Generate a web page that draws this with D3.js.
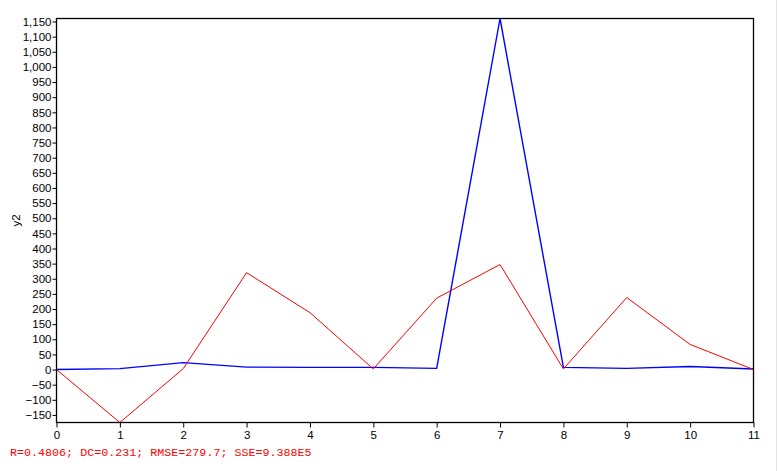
<!DOCTYPE html>
<html>
<head>
<meta charset="utf-8">
<script src="https://cdn.jsdelivr.net/npm/d3@7"></script>
<style>
html,body{margin:0;padding:0;background:#fff;overflow:hidden;}
svg{display:block;}
</style>
</head>
<body>
<svg id="chart" width="778" height="471"></svg>
<script>
const xValues = [0,1,2,3,4,5,6,7,8,9,10,11];
const observed = [0,3,23,8,7,7,4,1160,7,4,10,2];      // blue
const simulated = [0,-175,3,320,188,2,236,347,2,238,83,0]; // red
const yTicks = [-150,-100,-50,0,50,100,150,200,250,300,350,400,450,500,550,600,650,700,750,800,850,900,950,1000,1050,1100,1150];
const yLabel = "y2";
const statsText = "R=0.4806; DC=0.231; RMSE=279.7; SSE=9.388E5";

const svg = d3.select("#chart");
const m = {left:56.5, right:753.5, top:18.5, bottom:422.5};

const x = d3.scaleLinear().domain([0,11]).range([m.left, m.right]);
const allY = observed.concat(simulated);
const y = d3.scaleLinear().domain([d3.min(allY), d3.max(allY)]).range([m.bottom, m.top]);

// window edge line
svg.append("line").attr("x1",776.5).attr("x2",776.5).attr("y1",0).attr("y2",471)
  .attr("stroke","#e2e2e2").attr("stroke-width",1);

const line = d3.line().x((d,i)=>x(xValues[i])).y(d=>y(d));

const plot = svg.append("g");
plot.append("path").datum(observed).attr("d",line)
  .attr("fill","none").attr("stroke","#0000ff").attr("stroke-width",1.4);
plot.append("path").datum(simulated).attr("d",line)
  .attr("fill","none").attr("stroke","#ff0000").attr("stroke-width",1);

// frame
svg.append("rect").attr("x",m.left).attr("y",m.top)
  .attr("width",m.right-m.left).attr("height",m.bottom-m.top)
  .attr("fill","none").attr("stroke","#000").attr("stroke-width",1.3);

const fmt = d3.format(",");
const yAxis = svg.append("g").attr("transform",`translate(${m.left},0)`)
  .call(d3.axisLeft(y).tickValues(yTicks).tickFormat(fmt).tickSize(4).tickPadding(1));
yAxis.select(".domain").remove();
yAxis.selectAll("text").attr("font-family","Liberation Sans, Arial, sans-serif").attr("font-size","11.5px").attr("fill","#000");
yAxis.selectAll("line").attr("stroke","#000");

const xAxis = svg.append("g").attr("transform",`translate(0,${m.bottom})`)
  .call(d3.axisBottom(x).tickValues(xValues).tickFormat(d3.format("d")).tickSize(5).tickPadding(3));
xAxis.select(".domain").remove();
xAxis.selectAll("text").attr("font-family","Liberation Sans, Arial, sans-serif").attr("font-size","11.5px").attr("fill","#000");
xAxis.selectAll("line").attr("stroke","#000");

svg.append("text").attr("transform",`translate(20,${(m.top+m.bottom)/2}) rotate(-90)`)
  .attr("text-anchor","middle").attr("font-family","Liberation Sans, Arial, sans-serif")
  .attr("font-size","11.5px").attr("fill","#000").text(yLabel);

svg.append("text").attr("x",10).attr("y",456)
  .attr("font-family","Liberation Mono, Courier New, monospace").attr("font-size","11.7px")
  .attr("fill","#ff0000").text(statsText);
</script>
</body>
</html>
